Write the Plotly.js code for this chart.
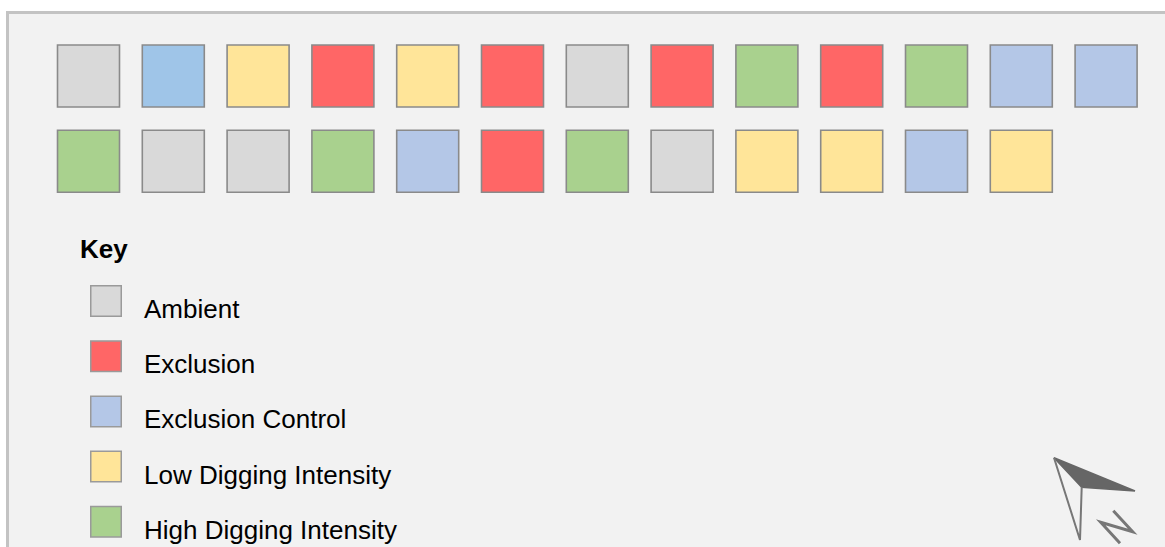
<!DOCTYPE html>
<html>
<head>
<meta charset="utf-8">
<script src="https://cdn.plot.ly/plotly-3.0.1.min.js"></script>
<style>
html,body{margin:0;padding:0;background:#ffffff;}
#chart{width:1165px;height:547px;}
</style>
</head>
<body>
<div id="chart"></div>
<script>
// ---- data ----
var treatments = ['Ambient', 'Exclusion', 'Exclusion Control', 'Low Digging Intensity', 'High Digging Intensity'];
var row1 = ['Ambient', 'Exclusion Control (alt)', 'Low Digging Intensity', 'Exclusion', 'Low Digging Intensity',
            'Exclusion', 'Ambient', 'Exclusion', 'High Digging Intensity', 'Exclusion',
            'High Digging Intensity', 'Exclusion Control', 'Exclusion Control'];
var row2 = ['High Digging Intensity', 'Ambient', 'Ambient', 'High Digging Intensity', 'Exclusion Control',
            'Exclusion', 'High Digging Intensity', 'Ambient', 'Low Digging Intensity', 'Low Digging Intensity',
            'Exclusion Control', 'Low Digging Intensity'];
var keyTitle = 'Key';

// ---- styles ----
var palette = {
  'Ambient': '#d9d9d9',
  'Exclusion': '#ff6666',
  'Exclusion Control': '#b4c7e7',
  'Exclusion Control (alt)': '#9fc5e8',
  'Low Digging Intensity': '#ffe599',
  'High Digging Intensity': '#a9d18e'
};

var W = 1165, H = 547;
function px(x){ return x / W; }
function py(y){ return 1 - y / H; }

// plot cells: column index / row index
var cx = [], cy = [], cc = [];
[row1, row2].forEach(function(row, r){
  row.forEach(function(t, i){ cx.push(i); cy.push(r); cc.push(palette[t]); });
});

var plotTrace = {
  type: 'scatter', mode: 'markers', x: cx, y: cy, xaxis: 'x', yaxis: 'y',
  marker: {symbol: 'square', size: 62, color: cc, line: {color: '#8a8a8a', width: 1.6}},
  hoverinfo: 'skip', showlegend: false
};

var kx = treatments.map(function(){ return 0; });
var ky = treatments.map(function(t, k){ return k; });
var keyTrace = {
  type: 'scatter', mode: 'markers', x: kx, y: ky, xaxis: 'x2', yaxis: 'y2',
  marker: {symbol: 'square', size: 30.5, color: treatments.map(function(t){ return palette[t]; }),
           line: {color: '#9a9a9a', width: 1.5}},
  hoverinfo: 'skip', showlegend: false
};

// axis scales
var colPitch = 84.8, col0 = 88.5;           // px
var rowPitch = 85.3, row0 = 76;             // px
var keyPitch = 55.2, key0 = 301, keyX = 106;

var annotations = treatments.map(function(t, k){
  return {xref: 'x2', yref: 'y2', x: 0, y: k, xanchor: 'left', yanchor: 'middle',
          xshift: 36, yshift: -8, showarrow: false, text: t,
          font: {family: 'Liberation Sans, Arial, sans-serif', size: 26, color: '#000000'}};
});
annotations.push({xref: 'paper', yref: 'paper', x: px(78), y: py(249), xanchor: 'left', yanchor: 'middle',
  showarrow: false, text: '<b>' + keyTitle + '</b>',
  font: {family: 'Liberation Sans, Arial, sans-serif', size: 26, color: '#000000'}});

function P(pts, close){
  var s = pts.map(function(p, i){ return (i ? 'L' : 'M') + px(p[0]).toFixed(5) + ',' + py(p[1]).toFixed(5); }).join(' ');
  return s + (close ? ' Z' : '');
}

var shapes = [
  // frame
  {type: 'path', xref: 'paper', yref: 'paper', layer: 'below',
   path: P([[7.5, 560], [7.5, 12.5], [1180, 12.5], [1180, 560]], true),
   fillcolor: '#f2f2f2', line: {color: '#c3c3c3', width: 3}},
  // north arrow filled half
  {type: 'path', xref: 'paper', yref: 'paper',
   path: P([[1054, 457.7], [1135, 491], [1081.7, 487.3]], true),
   fillcolor: '#666666', line: {color: '#666666', width: 1.5}},
  // north arrow outline half
  {type: 'path', xref: 'paper', yref: 'paper',
   path: P([[1054, 457.7], [1080, 540], [1081.7, 487.3]], false),
   fillcolor: 'rgba(0,0,0,0)', line: {color: '#777777', width: 2}},
  // N letter
  {type: 'path', xref: 'paper', yref: 'paper',
   path: P([[1120, 543.3], [1100.7, 522.3], [1132.7, 531.7], [1113.3, 510.7]], false),
   fillcolor: 'rgba(0,0,0,0)', line: {color: '#777777', width: 3}}
];

var layout = {
  width: W, height: H,
  margin: {l: 0, r: 0, t: 0, b: 0, pad: 0},
  paper_bgcolor: '#ffffff', plot_bgcolor: 'rgba(0,0,0,0)',
  xaxis: {domain: [0, 1], range: [-col0 / colPitch, (W - col0) / colPitch], visible: false, fixedrange: true},
  yaxis: {domain: [0, 1], range: [(H - row0) / rowPitch, -row0 / rowPitch], visible: false, fixedrange: true},
  xaxis2: {domain: [0, 1], anchor: 'y2', overlaying: 'x', range: [-keyX / 100, (W - keyX) / 100], visible: false, fixedrange: true},
  yaxis2: {domain: [0, 1], anchor: 'x2', overlaying: 'y', range: [(H - key0) / keyPitch, -key0 / keyPitch], visible: false, fixedrange: true},
  shapes: shapes,
  annotations: annotations,
  showlegend: false
};

Plotly.newPlot('chart', [plotTrace, keyTrace], layout, {displayModeBar: false, staticPlot: true});
</script>
</body>
</html>
